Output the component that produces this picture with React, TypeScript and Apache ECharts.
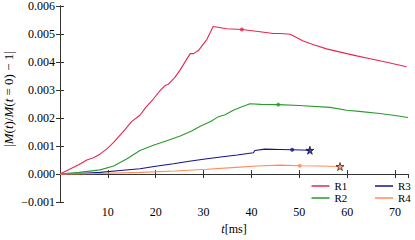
import React, { useEffect, useRef } from "react";
import * as echarts from "echarts";

const r1T = [0, 2, 4, 5.6, 7, 8.4, 9.8, 11.2, 13.3, 15.0, 16.7, 18, 19.5, 21, 22.0, 22.6, 24, 25.1, 27.2, 27.9, 28.9, 30.7, 32.0, 34.8, 38.0, 41, 44.6, 46.0, 48.1, 50.8, 53, 55.7, 59.9, 62, 64.8, 68, 72.4];
const r1V = [0, 0.00017, 0.00034, 0.0005, 0.00058, 0.00072, 0.0009, 0.00113, 0.00153, 0.00188, 0.0021, 0.0024, 0.00268, 0.003, 0.00317, 0.0032, 0.00345, 0.00372, 0.0043, 0.0043, 0.00441, 0.00481, 0.00527, 0.00519, 0.00516, 0.0051, 0.00502, 0.00502, 0.00499, 0.00475, 0.00462, 0.00447, 0.0043, 0.00422, 0.00412, 0.004, 0.00383];

const r2T = [0, 4, 8.4, 11.2, 14, 16.7, 19.5, 22.3, 23.2, 25.1, 27.5, 29.3, 31.5, 33.1, 34.5, 36.2, 38, 39.7, 42, 45.6, 50, 56.4, 59.9, 63, 66.8, 70, 72.7];
const r2V = [0, 0.00006, 0.00015, 0.00029, 0.00055, 0.00084, 0.00103, 0.00119, 0.00124, 0.00136, 0.00154, 0.00171, 0.00188, 0.00205, 0.00212, 0.00228, 0.0024, 0.00251, 0.00249, 0.00248, 0.00245, 0.00238, 0.00228, 0.00223, 0.00216, 0.00209, 0.00202];

const r3T = [0, 4, 8.4, 12, 16.7, 20, 23.7, 27, 30.7, 34, 37, 40.4, 40.7, 42.8, 46.0, 48.5, 52.2];
const r3V = [0, 0.00002, 0.00006, 0.00012, 0.00019, 0.00028, 0.00037, 0.00046, 0.00055, 0.00062, 0.00068, 0.00076, 0.00084, 0.00089, 0.00088, 0.00087, 0.00085];

const r4T = [0, 8, 16.7, 24, 30.7, 36, 41.1, 46.0, 50.1, 54, 58.5];
const r4V = [0, 0.00002, 0.00006, 0.00011, 0.00017, 0.00023, 0.00029, 0.00032, 0.0003, 0.00029, 0.00027];

const seriesNames = ["R1", "R2", "R3", "R4"];
const seriesColors = ["#e6264f", "#2a9a2a", "#14148c", "#ff8c5a"];
const dotMarkers: [number, number][] = [
  [38.0, 0.00516],
  [45.6, 0.00248],
  [48.5, 0.00087],
  [50.1, 0.0003],
];
const starMarkers: ([number, number] | null)[] = [null, null, [52.2, 0.00085], [58.5, 0.00027]];

const xTicks = [10, 20, 30, 40, 50, 60, 70];

const STAR = "path://M50,0 L61,35 L98,35 L68,57 L79,91 L50,70 L21,91 L32,57 L2,35 L39,35 Z";
const FONT = "Liberation Serif";

export default function App() {
  const ref = useRef<HTMLDivElement>(null);
  useEffect(() => {
    if (!ref.current) return;
    const chart = echarts.init(ref.current, undefined, { renderer: "svg" });
    const ts = [r1T, r2T, r3T, r4T];
    const vs = [r1V, r2V, r3V, r4V];
    const series: any[] = [];
    seriesNames.forEach((name, i) => {
      series.push({
        name,
        type: "line",
        data: ts[i].map((t, j) => [t, vs[i][j]]),
        showSymbol: false,
        symbol: "none",
        lineStyle: { color: seriesColors[i], width: 1.1 },
        itemStyle: { color: seriesColors[i] },
        z: 3,
      });
      series.push({
        name: name + "-dot",
        type: "scatter",
        data: [dotMarkers[i]],
        symbol: "circle",
        symbolSize: 4,
        itemStyle: { color: seriesColors[i] },
        z: 4,
      });
      const s = starMarkers[i];
      if (s) {
        series.push({
          name: name + "-end",
          type: "scatter",
          data: [s],
          symbol: STAR,
          symbolSize: 8,
          itemStyle: { color: seriesColors[i], borderColor: "#000", borderWidth: 0.8 },
          z: 5,
        });
      }
    });
    const axisLine = { show: true, lineStyle: { color: "#333", width: 1 } };
    const tickStyle = { show: true, inside: true, length: 4, lineStyle: { color: "#333", width: 1 } };
    const legendCommon = {
      orient: "vertical",
      itemWidth: 18,
      itemHeight: 1.5,
      itemGap: 0,
      icon: "rect",
      padding: 0,
      textStyle: { fontFamily: FONT, fontSize: 11, color: "#000", lineHeight: 12 },
    };
    chart.setOption({
      animation: false,
      backgroundColor: "#fff",
      grid: { left: 60, top: 5, width: 348, height: 202.7, containLabel: false },
      legend: [
        { ...legendCommon, data: ["R1", "R2"], left: 311.5, top: 180 },
        { ...legendCommon, data: ["R3", "R4"], left: 375, top: 180 },
      ],
      graphic: [
        {
          type: "text",
          x: 8,
          y: 99,
          rotation: Math.PI / 2,
          style: {
            text: "|{i|M}({i|t})/{i|M}({i|t} = 0) \u2212 1|",
            fontFamily: FONT,
            fontSize: 13,
            fill: "#000",
            align: "center",
            verticalAlign: "middle",
            rich: { i: { fontFamily: FONT, fontSize: 13, fontStyle: "italic", fill: "#000" } },
          },
        },
      ],
      xAxis: [
        {
          type: "value",
          min: 0,
          max: 72.7,
          interval: 10,
          position: "bottom",
          axisLine,
          axisTick: tickStyle,
          splitLine: { show: false },
          axisLabel: {
            margin: 4,
            fontFamily: FONT,
            fontSize: 12,
            color: "#000",
            showMinLabel: false,
            showMaxLabel: false,
            formatter: (v: number) => (xTicks.includes(Math.round(v)) ? String(Math.round(v)) : ""),
          },
          name: "{i|t}[ms]",
          nameLocation: "middle",
          nameGap: 16,
          nameTextStyle: {
            fontFamily: FONT,
            fontSize: 12,
            color: "#000",
            rich: { i: { fontFamily: FONT, fontSize: 12, fontStyle: "italic", color: "#000" } },
          },
        },
        {
          type: "value",
          min: 0,
          max: 72.7,
          interval: 10,
          position: "top",
          axisLine,
          axisTick: tickStyle,
          splitLine: { show: false },
          axisLabel: { show: false },
        },
      ],
      yAxis: [
        {
          type: "value",
          min: -0.001,
          max: 0.006,
          interval: 0.001,
          position: "left",
          axisLine,
          axisTick: tickStyle,
          splitLine: { show: false },
          axisLabel: {
            margin: 5,
            fontFamily: FONT,
            fontSize: 12,
            color: "#000",
            formatter: (v: number) => {
              const s = Math.abs(v).toFixed(3);
              return v < -1e-9 ? "\u2212" + s : s;
            },
          },
        },
        {
          type: "value",
          min: -0.001,
          max: 0.006,
          interval: 0.001,
          position: "right",
          axisLine,
          axisTick: tickStyle,
          splitLine: { show: false },
          axisLabel: { show: false },
        },
      ],
      series,
    });
    return () => chart.dispose();
  }, []);
  return <div ref={ref} style={{ width: 415, height: 240, position: "absolute", left: 0, top: 0 }} />;
}
